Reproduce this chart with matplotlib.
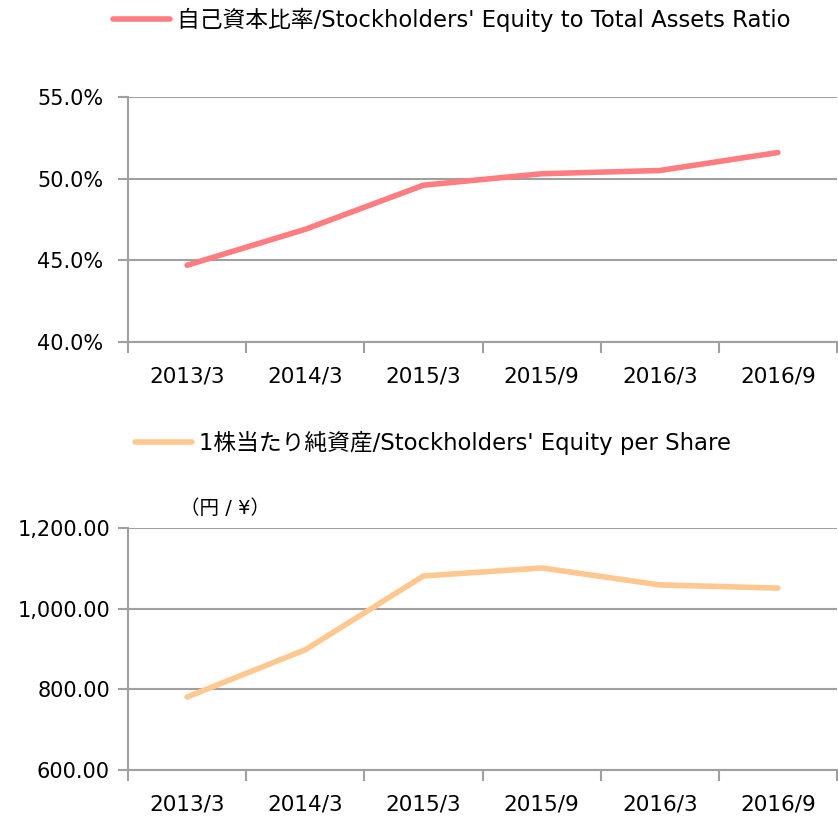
import numpy as np
import matplotlib
matplotlib.use('Agg')
import matplotlib.pyplot as plt
from matplotlib.ticker import FixedLocator

plt.rcParams['font.family'] = ['DejaVu Sans', 'Noto Sans CJK JP']

periods = ['2013/3', '2014/3', '2015/3', '2015/9', '2016/3', '2016/9']
equity_ratio = [44.7, 46.9, 49.6, 50.3, 50.5, 51.6]
equity_per_share = [781, 898, 1081, 1101, 1059, 1051]

ratio_label = "自己資本比率/Stockholders' Equity to Total Assets Ratio"
share_label = "1株当たり純資産/Stockholders' Equity per Share"

grid_col = '#a0a0a0'

fig = plt.figure(figsize=(8.38, 8.18), dpi=100)
ax1 = fig.add_axes([128/838, 1-342/818, 709/838, 245/818])
ax2 = fig.add_axes([128/838, 1-770/818, 709/838, 242/818])


def style(ax, yticks, fmt, ypad):
    x = np.arange(len(periods))
    ax.set_xlim(-0.5, len(periods) - 0.5)
    ax.set_xticks(x)
    ax.set_xticklabels(periods, fontsize=15.5)
    ax.xaxis.set_minor_locator(FixedLocator(np.arange(-0.5, len(periods), 1)))
    ax.tick_params(axis='x', which='major', length=0, pad=18)
    ax.tick_params(axis='x', which='minor', length=8, width=1.5, color=grid_col, direction='out')
    ax.set_yticks(yticks)
    ax.set_yticklabels([fmt(v) for v in yticks], fontsize=15)
    ax.set_ylim(yticks[0], yticks[-1])
    ax.tick_params(axis='y', length=7, width=1.5, color=grid_col, pad=ypad)
    ax.grid(axis='y', color=grid_col, lw=1.5)
    ax.set_axisbelow(True)
    for s in ['top', 'right']:
        ax.spines[s].set_visible(False)
    for s in ['left', 'bottom']:
        ax.spines[s].set_color(grid_col)
        ax.spines[s].set_linewidth(1.5)


x = np.arange(len(periods))
ax1.plot(x, equity_ratio, color='#ff7c80', lw=4, solid_capstyle='round', label=ratio_label, clip_on=False)
style(ax1, [40, 45, 50, 55], lambda v: f'{v:.1f}%', 11)
ax1.legend(loc='center left', bbox_to_anchor=(-15/709, 322/245), frameon=False,
           fontsize=16.4, handlelength=2.5, handletextpad=0.3, borderaxespad=0, borderpad=0)

ax2.plot(x, equity_per_share, color='#ffc890', lw=4, solid_capstyle='round', label=share_label, clip_on=False)
style(ax2, [600, 800, 1000, 1200], lambda v: f'{v:,.2f}', 6)
ax2.legend(loc='center left', bbox_to_anchor=(7/709, 327/242), frameon=False,
           fontsize=16.4, handlelength=2.5, handletextpad=0.3, borderaxespad=0, borderpad=0)
ax2.text(97/709, 262/242, '（円 / ¥）', transform=ax2.transAxes, ha='center', va='center', fontsize=14)

fig.savefig('out.png', dpi=100)
